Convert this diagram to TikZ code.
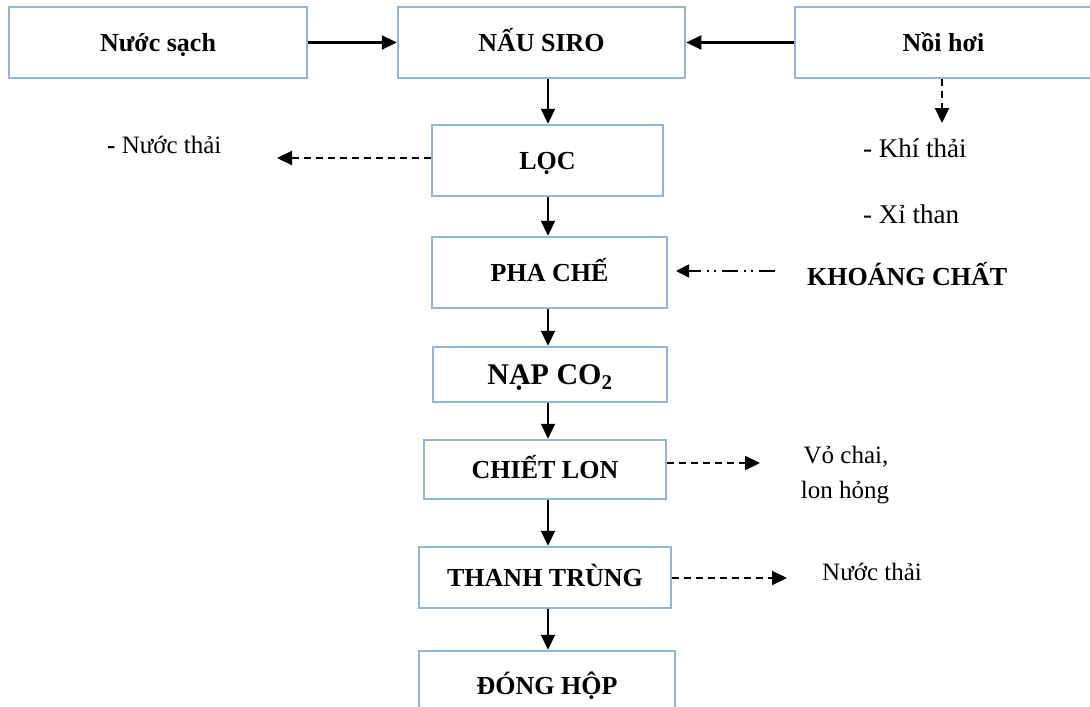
\documentclass[tikz,border=0pt]{standalone}
\usepackage{fontspec}
\setmainfont{Liberation Serif}
\usetikzlibrary{arrows.meta}
\definecolor{boxblue}{HTML}{95B3D7}
\begin{document}
\begin{tikzpicture}[x=1pt,y=-1pt,
  stepbox/.style={draw=boxblue, line width=2.5pt, fill=white, inner sep=0pt,
    font=\fontsize{26}{30}\selectfont\bfseries, align=center,
    text height=17.5pt, text depth=0pt},
  flow/.style={line width=2.2pt, -{Triangle[width=14pt,length=15pt]}},
  waste/.style={line width=2.2pt, dash pattern=on 7pt off 5pt, -{Triangle[width=14pt,length=15pt]}},
  additive/.style={line width=1.8pt, dash pattern=on 16pt off 6pt on 2pt off 5pt on 2pt off 6pt,
    -{Triangle[width=13pt,length=13pt]}},
  note/.style={font=\fontsize{25}{30}\selectfont, inner sep=0pt},
  bignote/.style={font=\fontsize{27}{32}\selectfont, inner sep=0pt},
]
\useasboundingbox (0,0) rectangle (1090,707);

% process boxes
\node[stepbox, minimum width=298pt, minimum height=71pt] (nuoc)  at (158,42.5)   {Nước sạch};
\node[stepbox, minimum width=287pt, minimum height=71pt] (nau)   at (541.5,42.5) {NẤU SIRO};
\node[stepbox, minimum width=297pt, minimum height=71pt] (noi)   at (943.5,42.5) {Nồi hơi};
\node[stepbox, minimum width=231pt, minimum height=71pt] (loc)   at (547.5,160.5) {LỌC};
\node[stepbox, minimum width=235pt, minimum height=71pt] (pha)   at (549.5,272.5) {PHA CHẾ};
\node[stepbox, minimum width=234pt, minimum height=55pt, text height=20pt,
      font=\fontsize{30}{34}\selectfont\bfseries]        (nap)   at (550,374.5)   {NẠP CO\textsubscript{2}};
\node[stepbox, minimum width=242pt, minimum height=59pt] (chiet) at (545,469.5)   {CHIẾT LON};
\node[stepbox, minimum width=252pt, minimum height=61pt] (thanh) at (545,577.5)   {THANH TRÙNG};
\node[stepbox, minimum width=256pt, minimum height=70pt] (dong)  at (547,686)     {ĐÓNG HỘP};

% side notes
\node[note, anchor=base west]    (lnuoc)  at (107,153) {\textbf{-} Nước thải};
\node[bignote, anchor=base west] (khi)    at (863,157) {- Khí thải};
\node[bignote, anchor=base west] (xi)     at (863,223) {- Xỉ than};
\node[inner sep=0pt, font=\fontsize{26}{30}\selectfont\bfseries, anchor=base west]
                                 (khoang) at (807,285) {KHOÁNG CHẤT};
\node[note, anchor=base]         (vo1)    at (846,463) {Vỏ chai,};
\node[note, anchor=base]         (vo2)    at (845,498) {lon hỏng};
\node[note, anchor=base west]    (rnuoc)  at (822,580) {Nước thải};

% main flow
\coordinate (axis) at (548,0);
\draw[flow] (nuoc.east) -- (nau.west);
\draw[flow] (noi.west) -- (nau.east);
\draw[flow] (nau.south -| axis)   -- (loc.north -| axis);
\draw[flow] (loc.south -| axis)   -- (pha.north -| axis);
\draw[flow] (pha.south -| axis)   -- (nap.north -| axis);
\draw[flow] (nap.south -| axis)   -- (chiet.north -| axis);
\draw[flow] (chiet.south -| axis) -- (thanh.north -| axis);
\draw[flow] (thanh.south -| axis) -- (dong.north -| axis);

% waste streams
\coordinate (wasteL) at (277,158);
\draw[waste] (loc.west |- wasteL) -- (wasteL);
\coordinate (khiTip) at (942,123);
\draw[waste] (noi.south -| khiTip) -- (khiTip);
\coordinate (voTip) at (760,463);
\draw[waste] (chiet.east |- voTip) -- (voTip);
\coordinate (nTip) at (787,578);
\draw[waste] (thanh.east |- nTip) -- (nTip);

% mineral additive
\coordinate (kStart) at (775,271);
\coordinate (kEnd) at (676,271);
\draw[additive] (kStart) -- (kEnd);
\end{tikzpicture}
\end{document}
